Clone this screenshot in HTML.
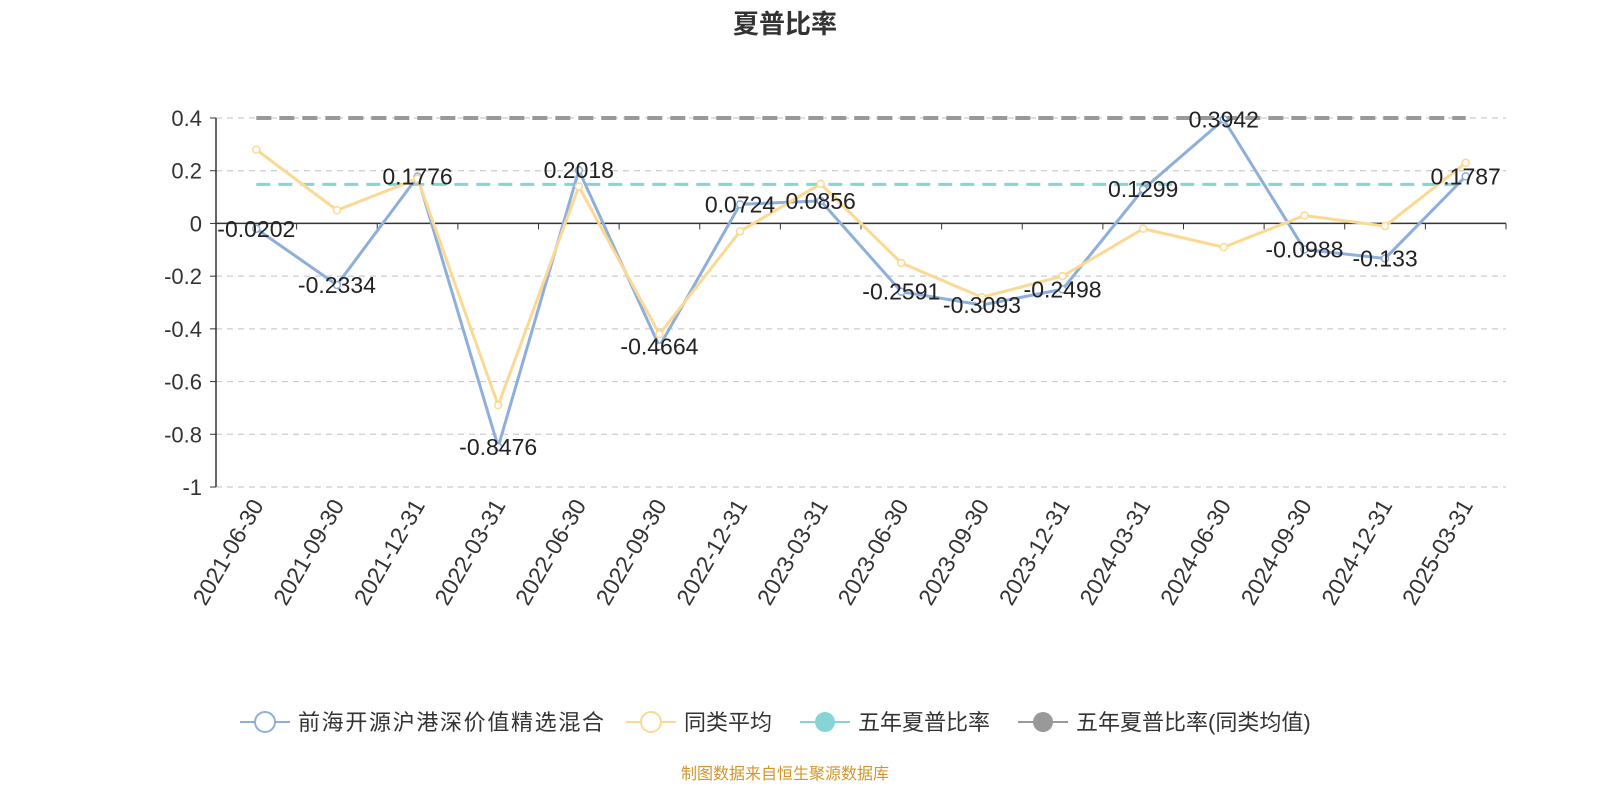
<!DOCTYPE html>
<html><head><meta charset="utf-8"><style>
body{margin:0;background:#fff;width:1600px;height:800px;overflow:hidden;font-family:"Liberation Sans","Noto Sans CJK SC",sans-serif}
</style></head><body>
<svg id="chart" width="1600" height="800" xmlns="http://www.w3.org/2000/svg" font-family="Liberation Sans, Noto Sans CJK SC, sans-serif">
<text x="785" y="33" text-anchor="middle" font-size="26" font-weight="bold" fill="#333">夏普比率</text>
<g id="grid"></g><g id="axes"></g><g id="series"></g>
<g font-size="22" fill="#333">
 <g><line x1="240" y1="722" x2="290" y2="722" stroke="#8eaedc" stroke-width="2"/><circle cx="265" cy="722" r="10" fill="#fff" stroke="#8eaedc" stroke-width="2"/><text x="298" y="730" textLength="306">前海开源沪港深价值精选混合</text></g>
 <g><line x1="626" y1="722" x2="676" y2="722" stroke="#fcd993" stroke-width="2"/><circle cx="651" cy="722" r="10" fill="#fff" stroke="#fcd993" stroke-width="2"/><text x="684" y="730">同类平均</text></g>
 <g><line x1="800" y1="722" x2="850" y2="722" stroke="#86d4d6" stroke-width="2"/><circle cx="825" cy="722" r="10" fill="#86d4d6"/><text x="858" y="730">五年夏普比率</text></g>
 <g><line x1="1018" y1="722" x2="1068" y2="722" stroke="#999" stroke-width="2"/><circle cx="1043" cy="722" r="10" fill="#999"/><text x="1076" y="730">五年夏普比率(同类均值)</text></g>
</g>
<text x="785" y="779" text-anchor="middle" font-size="16" fill="#d4962a">制图数据来自恒生聚源数据库</text>
</svg>
<script>
const categories=["2021-06-30","2021-09-30","2021-12-31","2022-03-31","2022-06-30","2022-09-30","2022-12-31","2023-03-31","2023-06-30","2023-09-30","2023-12-31","2024-03-31","2024-06-30","2024-09-30","2024-12-31","2025-03-31"];
const fundValues=[-0.0202,-0.2334,0.1776,-0.8476,0.2018,-0.4664,0.0724,0.0856,-0.2591,-0.3093,-0.2498,0.1299,0.3942,-0.0988,-0.133,0.1787];
const peerValues=[0.28,0.05,0.17,-0.69,0.14,-0.42,-0.03,0.15,-0.15,-0.28,-0.2,-0.02,-0.09,0.03,-0.01,0.23];
const fiveYear=[0.148];
const fiveYearPeer=[0.4];
const yTicks=[0.4,0.2,0,-0.2,-0.4,-0.6,-0.8,-1];
const yTickLabels=["0.4","0.2","0","-0.2","-0.4","-0.6","-0.8","-1"];
const NS="http://www.w3.org/2000/svg";
const L=216,R=1506,T=118,B=487,yMax=0.4,yMin=-1;
const bw=(R-L)/categories.length;
const xs=i=>L+bw*(i+0.5);
const ys=v=>T+(yMax-v)/(yMax-yMin)*(B-T);
function mk(tag,attrs,parent){const e=document.createElementNS(NS,tag);for(const k in attrs)e.setAttribute(k,attrs[k]);parent.appendChild(e);return e;}
const grid=document.getElementById('grid'),axes=document.getElementById('axes'),series=document.getElementById('series');
yTicks.forEach((v,i)=>{
 if(v!==0){const g=mk('line',{x1:L,x2:R,y1:ys(v),y2:ys(v),stroke:'#ccc','stroke-dasharray':'6,5','stroke-width':1.2},grid);
 
 }
 const t=mk('text',{x:L-14,y:ys(v)+8,'text-anchor':'end','font-size':22,fill:'#333'},axes);t.textContent=yTickLabels[i];
 
 
 mk('line',{x1:L-6,x2:L,y1:ys(v),y2:ys(v),stroke:'#333'},axes);
});
const ya=mk('line',{x1:L,x2:L,y1:T,y2:B,stroke:'#333','stroke-width':1.5},axes);


const xa=mk('line',{x1:L,x2:R,y1:ys(0),y2:ys(0),stroke:'#333','stroke-width':1.5},axes);


for(let i=0;i<=categories.length;i++)mk('line',{x1:L+bw*i,x2:L+bw*i,y1:ys(0),y2:ys(0)+6,stroke:'#333'},axes);
categories.forEach((c,i)=>{
 const x=xs(i)+8,y=B+18;
 const t=mk('text',{x:x,y:y,'text-anchor':'end','font-size':23,fill:'#333',transform:`rotate(-60 ${x} ${y})`},axes);t.textContent=c;
 
 
});
const h1=mk('line',{x1:xs(0),x2:xs(15),y1:ys(fiveYearPeer[0]),y2:ys(fiveYearPeer[0]),stroke:'#999','stroke-width':4,'stroke-dasharray':'15,8'},series);


const h2=mk('line',{x1:xs(0),x2:xs(15),y1:ys(fiveYear[0]),y2:ys(fiveYear[0]),stroke:'#86d4d6','stroke-width':3,'stroke-dasharray':'14,8'},series);


function drawLine(vals,color,name){
 const p=mk('polyline',{points:vals.map((v,i)=>xs(i)+','+ys(v)).join(' '),fill:'none',stroke:color,'stroke-width':3},series);
 
 
 vals.forEach((v,i)=>{const c=mk('circle',{cx:xs(i),cy:ys(v),r:3.5,fill:'#fff',stroke:color,'stroke-width':1.5},series);
 
 });
}
drawLine(fundValues,'#8eaedc','fund');
drawLine(peerValues,'#fcd993','peer-average');
fundValues.forEach((v,i)=>{
 const t=mk('text',{x:xs(i),y:ys(v)+8,'text-anchor':'middle','font-size':23,fill:'#222'},series);t.textContent=String(v);
 
 
});
</script>
</body></html>
